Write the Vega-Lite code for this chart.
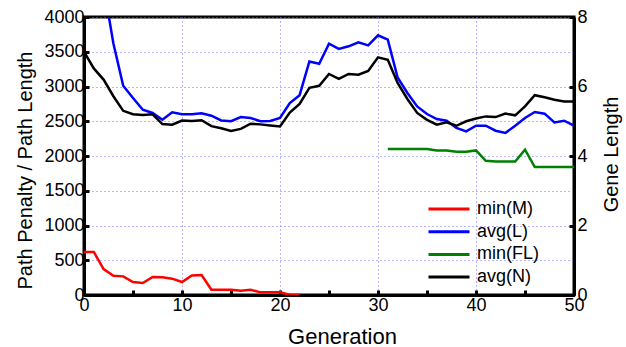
{
  "$schema": "https://vega.github.io/schema/vega-lite/v6.json",
  "width": 490,
  "height": 278,
  "autosize": "none",
  "padding": {"left": 84, "top": 17, "right": 52, "bottom": 52},
  "background": "white",
  "config": {
    "font": "Liberation Sans",
    "view": {"stroke": "black", "strokeWidth": 3},
    "axis": {
      "domainColor": "black",
      "domainWidth": 3,
      "tickColor": "black",
      "tickWidth": 3,
      "labelFontSize": 18,
      "labelColor": "black",
      "titleColor": "black",
      "titleFontWeight": "normal",
      "gridColor": "#6f6fff",
      "gridDash": [1, 3],
      "gridWidth": 1
    }
  },
  "datasets": {
    "left": [
      {"gen": 0, "series": "min(M)", "value": 619},
      {"gen": 1, "series": "min(M)", "value": 619},
      {"gen": 2, "series": "min(M)", "value": 374},
      {"gen": 3, "series": "min(M)", "value": 278},
      {"gen": 4, "series": "min(M)", "value": 268},
      {"gen": 5, "series": "min(M)", "value": 187},
      {"gen": 6, "series": "min(M)", "value": 172},
      {"gen": 7, "series": "min(M)", "value": 259},
      {"gen": 8, "series": "min(M)", "value": 254},
      {"gen": 9, "series": "min(M)", "value": 235},
      {"gen": 10, "series": "min(M)", "value": 187},
      {"gen": 11, "series": "min(M)", "value": 282},
      {"gen": 12, "series": "min(M)", "value": 287},
      {"gen": 13, "series": "min(M)", "value": 76},
      {"gen": 14, "series": "min(M)", "value": 76},
      {"gen": 15, "series": "min(M)", "value": 76},
      {"gen": 16, "series": "min(M)", "value": 62},
      {"gen": 17, "series": "min(M)", "value": 76},
      {"gen": 18, "series": "min(M)", "value": 38},
      {"gen": 19, "series": "min(M)", "value": 38},
      {"gen": 20, "series": "min(M)", "value": 38},
      {"gen": 21, "series": "min(M)", "value": 4},
      {"gen": 22, "series": "min(M)", "value": 0},
      {"gen": 0, "series": "avg(L)", "value": 6200},
      {"gen": 1, "series": "avg(L)", "value": 5300},
      {"gen": 2, "series": "avg(L)", "value": 4450},
      {"gen": 3, "series": "avg(L)", "value": 3620},
      {"gen": 4, "series": "avg(L)", "value": 3011},
      {"gen": 5, "series": "avg(L)", "value": 2834},
      {"gen": 6, "series": "avg(L)", "value": 2666},
      {"gen": 7, "series": "avg(L)", "value": 2619},
      {"gen": 8, "series": "avg(L)", "value": 2522},
      {"gen": 9, "series": "avg(L)", "value": 2628},
      {"gen": 10, "series": "avg(L)", "value": 2600},
      {"gen": 11, "series": "avg(L)", "value": 2600},
      {"gen": 12, "series": "avg(L)", "value": 2614},
      {"gen": 13, "series": "avg(L)", "value": 2580},
      {"gen": 14, "series": "avg(L)", "value": 2512},
      {"gen": 15, "series": "avg(L)", "value": 2500},
      {"gen": 16, "series": "avg(L)", "value": 2560},
      {"gen": 17, "series": "avg(L)", "value": 2547},
      {"gen": 18, "series": "avg(L)", "value": 2500},
      {"gen": 19, "series": "avg(L)", "value": 2505},
      {"gen": 20, "series": "avg(L)", "value": 2547},
      {"gen": 21, "series": "avg(L)", "value": 2762},
      {"gen": 22, "series": "avg(L)", "value": 2875},
      {"gen": 23, "series": "avg(L)", "value": 3361},
      {"gen": 24, "series": "avg(L)", "value": 3328},
      {"gen": 25, "series": "avg(L)", "value": 3616},
      {"gen": 26, "series": "avg(L)", "value": 3540},
      {"gen": 27, "series": "avg(L)", "value": 3578},
      {"gen": 28, "series": "avg(L)", "value": 3635},
      {"gen": 29, "series": "avg(L)", "value": 3592},
      {"gen": 30, "series": "avg(L)", "value": 3736},
      {"gen": 31, "series": "avg(L)", "value": 3673},
      {"gen": 32, "series": "avg(L)", "value": 3130},
      {"gen": 33, "series": "avg(L)", "value": 2906},
      {"gen": 34, "series": "avg(L)", "value": 2714},
      {"gen": 35, "series": "avg(L)", "value": 2604},
      {"gen": 36, "series": "avg(L)", "value": 2532},
      {"gen": 37, "series": "avg(L)", "value": 2508},
      {"gen": 38, "series": "avg(L)", "value": 2403},
      {"gen": 39, "series": "avg(L)", "value": 2354},
      {"gen": 40, "series": "avg(L)", "value": 2436},
      {"gen": 41, "series": "avg(L)", "value": 2436},
      {"gen": 42, "series": "avg(L)", "value": 2364},
      {"gen": 43, "series": "avg(L)", "value": 2331},
      {"gen": 44, "series": "avg(L)", "value": 2436},
      {"gen": 45, "series": "avg(L)", "value": 2547},
      {"gen": 46, "series": "avg(L)", "value": 2633},
      {"gen": 47, "series": "avg(L)", "value": 2609},
      {"gen": 48, "series": "avg(L)", "value": 2484},
      {"gen": 49, "series": "avg(L)", "value": 2508},
      {"gen": 50, "series": "avg(L)", "value": 2436}
    ],
    "right": [
      {"gen": 31, "series": "min(FL)", "value": 4.2},
      {"gen": 32, "series": "min(FL)", "value": 4.2},
      {"gen": 33, "series": "min(FL)", "value": 4.2},
      {"gen": 34, "series": "min(FL)", "value": 4.2},
      {"gen": 35, "series": "min(FL)", "value": 4.2},
      {"gen": 36, "series": "min(FL)", "value": 4.16},
      {"gen": 37, "series": "min(FL)", "value": 4.16},
      {"gen": 38, "series": "min(FL)", "value": 4.12},
      {"gen": 39, "series": "min(FL)", "value": 4.12},
      {"gen": 40, "series": "min(FL)", "value": 4.16},
      {"gen": 41, "series": "min(FL)", "value": 3.86},
      {"gen": 42, "series": "min(FL)", "value": 3.84},
      {"gen": 43, "series": "min(FL)", "value": 3.84},
      {"gen": 44, "series": "min(FL)", "value": 3.84},
      {"gen": 45, "series": "min(FL)", "value": 4.18},
      {"gen": 46, "series": "min(FL)", "value": 3.68},
      {"gen": 47, "series": "min(FL)", "value": 3.68},
      {"gen": 48, "series": "min(FL)", "value": 3.68},
      {"gen": 49, "series": "min(FL)", "value": 3.68},
      {"gen": 50, "series": "min(FL)", "value": 3.68},
      {"gen": 0, "series": "avg(N)", "value": 7.0},
      {"gen": 1, "series": "avg(N)", "value": 6.52},
      {"gen": 2, "series": "avg(N)", "value": 6.2},
      {"gen": 3, "series": "avg(N)", "value": 5.72},
      {"gen": 4, "series": "avg(N)", "value": 5.3},
      {"gen": 5, "series": "avg(N)", "value": 5.2},
      {"gen": 6, "series": "avg(N)", "value": 5.18},
      {"gen": 7, "series": "avg(N)", "value": 5.2},
      {"gen": 8, "series": "avg(N)", "value": 4.92},
      {"gen": 9, "series": "avg(N)", "value": 4.9},
      {"gen": 10, "series": "avg(N)", "value": 5.02},
      {"gen": 11, "series": "avg(N)", "value": 5.01},
      {"gen": 12, "series": "avg(N)", "value": 5.03},
      {"gen": 13, "series": "avg(N)", "value": 4.86},
      {"gen": 14, "series": "avg(N)", "value": 4.8},
      {"gen": 15, "series": "avg(N)", "value": 4.72},
      {"gen": 16, "series": "avg(N)", "value": 4.78},
      {"gen": 17, "series": "avg(N)", "value": 4.93},
      {"gen": 18, "series": "avg(N)", "value": 4.91},
      {"gen": 19, "series": "avg(N)", "value": 4.88},
      {"gen": 20, "series": "avg(N)", "value": 4.85},
      {"gen": 21, "series": "avg(N)", "value": 5.25},
      {"gen": 22, "series": "avg(N)", "value": 5.5},
      {"gen": 23, "series": "avg(N)", "value": 5.96},
      {"gen": 24, "series": "avg(N)", "value": 6.02},
      {"gen": 25, "series": "avg(N)", "value": 6.36},
      {"gen": 26, "series": "avg(N)", "value": 6.22},
      {"gen": 27, "series": "avg(N)", "value": 6.36},
      {"gen": 28, "series": "avg(N)", "value": 6.34},
      {"gen": 29, "series": "avg(N)", "value": 6.45},
      {"gen": 30, "series": "avg(N)", "value": 6.84},
      {"gen": 31, "series": "avg(N)", "value": 6.77},
      {"gen": 32, "series": "avg(N)", "value": 6.1},
      {"gen": 33, "series": "avg(N)", "value": 5.64},
      {"gen": 34, "series": "avg(N)", "value": 5.24},
      {"gen": 35, "series": "avg(N)", "value": 5.04},
      {"gen": 36, "series": "avg(N)", "value": 4.9},
      {"gen": 37, "series": "avg(N)", "value": 4.97},
      {"gen": 38, "series": "avg(N)", "value": 4.87},
      {"gen": 39, "series": "avg(N)", "value": 5.0},
      {"gen": 40, "series": "avg(N)", "value": 5.08},
      {"gen": 41, "series": "avg(N)", "value": 5.14},
      {"gen": 42, "series": "avg(N)", "value": 5.12},
      {"gen": 43, "series": "avg(N)", "value": 5.22},
      {"gen": 44, "series": "avg(N)", "value": 5.17},
      {"gen": 45, "series": "avg(N)", "value": 5.43},
      {"gen": 46, "series": "avg(N)", "value": 5.75},
      {"gen": 47, "series": "avg(N)", "value": 5.69},
      {"gen": 48, "series": "avg(N)", "value": 5.62},
      {"gen": 49, "series": "avg(N)", "value": 5.57},
      {"gen": 50, "series": "avg(N)", "value": 5.57}
    ]
  },
  "layer": [
    {
      "data": {"name": "left"},
      "mark": {"type": "line", "strokeWidth": 2.5, "clip": true},
      "encoding": {
        "x": {
          "field": "gen", "type": "quantitative",
          "scale": {"domain": [0, 50], "nice": false},
          "axis": {
            "title": "Generation",
            "titleFontSize": 22,
            "titleX": 258,
            "titleY": 48,
            "titleBaseline": "alphabetic",
            "values": [0, 5, 10, 15, 20, 25, 30, 35, 40, 45, 50],
            "format": "d",
            "labelExpr": "datum.value % 10 == 0 ? datum.label : ''",
            "tickSize": -5,
            "labelPadding": 6,
            "labelFlush": false,
            "grid": true,
            "gridOpacity": {"condition": {"test": "datum.value % 10 == 0 && datum.value > 0 && datum.value < 50", "value": 1}, "value": 0}
          }
        },
        "y": {
          "field": "value", "type": "quantitative",
          "scale": {"domain": [0, 4000], "nice": false},
          "axis": {
            "title": "Path Penalty / Path Length",
            "titleFontSize": 20,
            "titleX": -53,
            "titleY": 153,
            "titleAngle": 270,
            "titleAlign": "center",
            "titleBaseline": "alphabetic",
            "values": [0, 500, 1000, 1500, 2000, 2500, 3000, 3500, 4000],
            "format": "d",
            "tickSize": -5,
            "labelPadding": 5,
            "labelFlush": false,
            "grid": true
          }
        },
        "color": {
          "field": "series", "type": "nominal",
          "scale": {"domain": ["min(M)", "avg(L)", "min(FL)", "avg(N)"], "range": ["#ff0000", "#0000ff", "#008000", "#000000"]},
          "legend": {
            "title": null,
            "orient": "none",
            "legendX": 343,
            "legendY": 183,
            "padding": 0,
            "symbolType": "stroke",
            "symbolSize": 1681,
            "symbolStrokeWidth": 3,
            "clipHeight": 18,
            "labelFontSize": 18,
            "labelColor": "black",
            "labelOffset": 6,
            "rowPadding": 4.7
          }
        }
      }
    },
    {
      "data": {"name": "right"},
      "mark": {"type": "line", "strokeWidth": 2.5, "clip": true},
      "encoding": {
        "x": {"field": "gen", "type": "quantitative"},
        "y": {
          "field": "value", "type": "quantitative",
          "scale": {"domain": [0, 8], "nice": false},
          "axis": {
            "orient": "right",
            "title": "Gene Length",
            "titleFontSize": 20,
            "titleX": 43,
            "titleY": 137,
            "titleAngle": 270,
            "titleAlign": "center",
            "titleBaseline": "alphabetic",
            "values": [0, 2, 4, 6, 8],
            "tickSize": -5,
            "labelPadding": 8,
            "labelFlush": false,
            "grid": false
          }
        },
        "color": {"field": "series", "type": "nominal"}
      }
    }
  ],
  "resolve": {"scale": {"y": "independent"}}
}
